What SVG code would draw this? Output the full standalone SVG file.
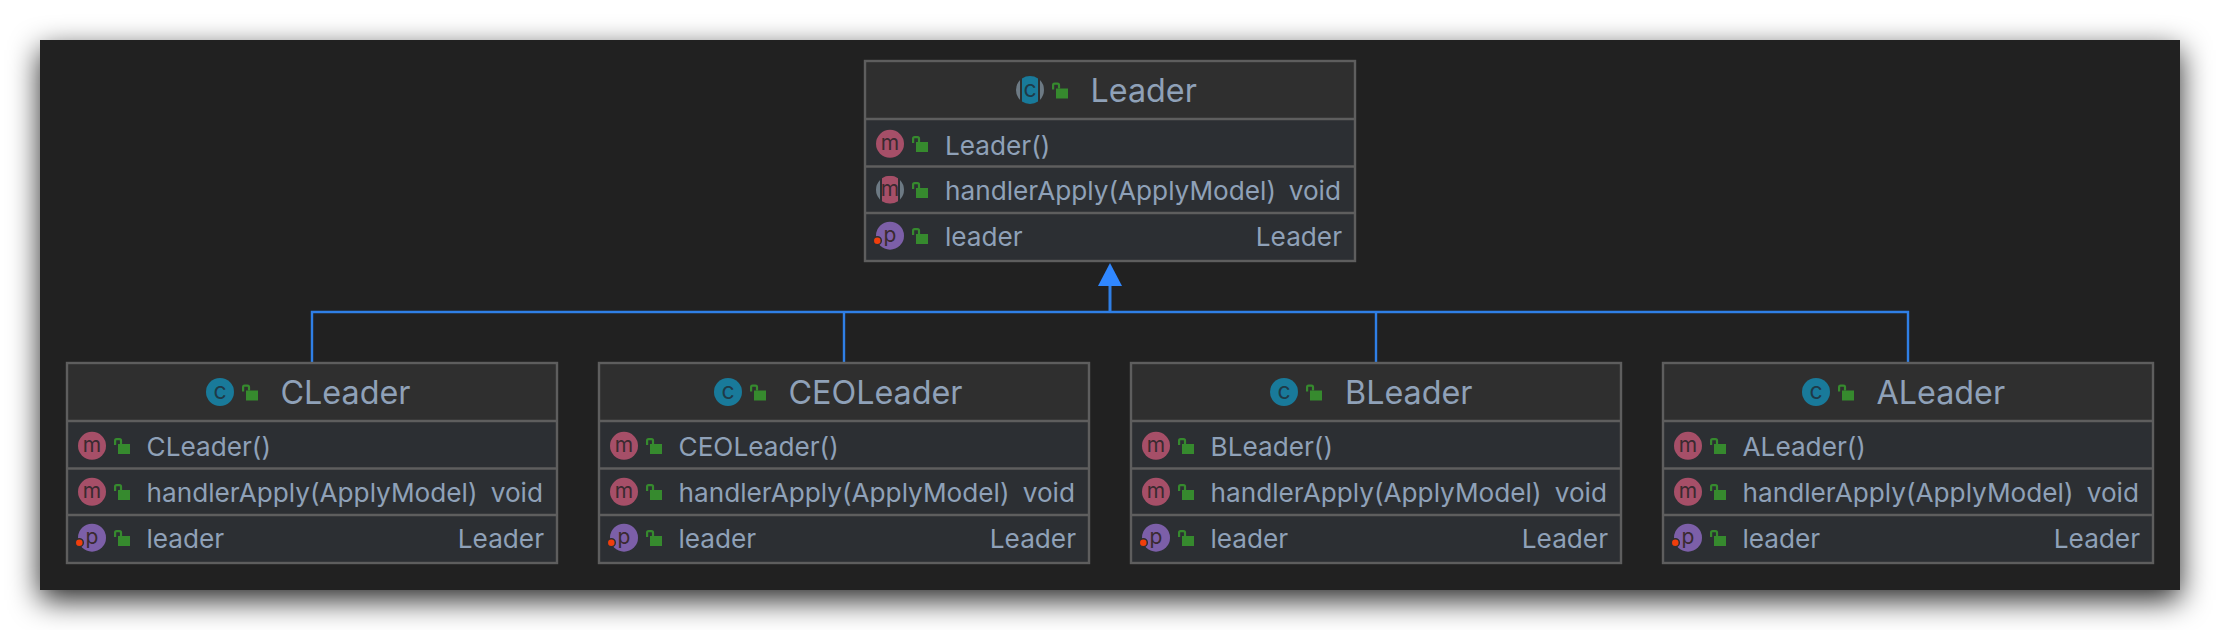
<svg xmlns="http://www.w3.org/2000/svg" width="2220" height="630" viewBox="0 0 2220 630">
<style>
.frame{fill:#212121}
.head{fill:#2f2f2f}
.row{fill:#2c2f33}
.line{stroke:#5e5e5e;stroke-width:2.400;fill:none}
text{font-family:Inter,"Noto Sans",sans-serif}
.title{font-size:32.300px;fill:#8fa1b8}
.t{font-size:26.200px;fill:#8fa1b8}
.e{text-anchor:end}
.ic{font-size:21px;fill:#3a2a30;text-anchor:middle}
.ic2{font-size:23px;fill:#1f3a48;text-anchor:middle}
.mc{fill:#a64f68}.pc{fill:#7c5fa8}.cc{fill:#197a9a}.gc{fill:#6d7a84}
.lk{fill:#368a2e}.ls{stroke:#368a2e;stroke-width:2.200;fill:none}
.conn{stroke:#2f7fe6;stroke-width:2.400;fill:none}
.arrow{fill:#3087ff}
.dot{fill:#f03e0c;stroke:#2c2f33;stroke-width:1.500}
</style>
<defs>
<filter id="sh" x="-10%" y="-30%" width="120%" height="160%"><feGaussianBlur stdDeviation="15"/></filter>
<g id="lock"><rect x="4" y="6" width="12" height="10" class="lk"/><path d="M1.100 7V2.500Q1.100 1.100 2.500 1.100H5.500Q7 1.100 7 2.500V6" class="ls"/></g>
<g id="box"><rect x="0" y="0" width="490" height="200" class="row"/><rect x="0" y="0" width="490" height="58" class="head"/><path d="M0 58H490M0 105.500H490M0 152H490" class="line"/><rect x="0" y="0" width="490" height="200" class="line"/></g>
<g id="members">
<circle cx="25" cy="128.800" r="14" class="mc"/><use href="#lock" x="47" y="75"/>
<use href="#lock" x="47" y="121"/>
<circle cx="25" cy="174.700" r="14" class="pc"/><use href="#lock" x="47" y="167"/>
<circle cx="12.300" cy="179.700" r="4" class="dot"/>
</g>
<clipPath id="band"><rect x="-8" y="-14" width="16" height="28"/></clipPath>
<clipPath id="sides"><path d="M-14-14H-10V14H-14ZM10-14H14V14H10Z"/></clipPath>
</defs>
<rect x="40" y="50" width="2140" height="550" fill="#000" fill-opacity="0.85" filter="url(#sh)"/>
<rect x="40" y="40" width="2140" height="550" class="frame"/>
<g id="connectors">
<path d="M312 363V312H1908V363M844 312V363M1376 312V363" class="conn"/>
<path d="M1110 312V285" class="conn" style="stroke-width:3"/>
<polygon points="1110,263 1122,286 1098,286" class="arrow"/>
</g>
<g id="Leader" transform="translate(865 61)">
<use href="#box"/>
<g transform="translate(165 29)"><circle r="14" class="gc" clip-path="url(#sides)"/><circle r="14" class="cc" clip-path="url(#band)"/></g>
<text x="165" y="36" class="ic2">c</text>
<use href="#lock" x="187" y="21.500"/>
<text x="225.500" y="41" class="title">Leader</text>
<circle cx="25" cy="82.800" r="14" class="mc"/>
<text x="25" y="89" class="ic">m</text>
<g transform="translate(25 128.800)"><circle r="14" class="gc" clip-path="url(#sides)"/><circle r="14" class="mc" clip-path="url(#band)"/></g>
<text x="25" y="135" class="ic">m</text>
<circle cx="25" cy="174.700" r="14" class="pc"/><text x="25" y="181" class="ic">p</text>
<use href="#lock" x="47" y="75"/><use href="#lock" x="47" y="121"/><use href="#lock" x="47" y="167"/>
<circle cx="12.300" cy="179.700" r="4" class="dot"/>
<text x="80" y="94" class="t">Leader()</text>
<text x="80" y="139" class="t">handlerApply(ApplyModel)</text>
<text x="476" y="139" class="t e">void</text>
<text x="80" y="185" class="t">leader</text>
<text x="477" y="185" class="t e">Leader</text>
</g>
<g id="CLeader" transform="translate(67 363)">
<use href="#box"/>
<circle cx="153" cy="29" r="14" class="cc"/><text x="153" y="36" class="ic2">c</text>
<use href="#lock" x="175" y="21.500"/>
<text x="213.500" y="41" class="title">CLeader</text>
<circle cx="25" cy="82.800" r="14" class="mc"/><use href="#members"/>
<text x="25" y="89" class="ic">m</text><text x="25" y="135" class="ic">m</text><text x="25" y="181" class="ic">p</text>
<text x="79.500" y="93" class="t">CLeader()</text>
<text x="79.500" y="139" class="t">handlerApply(ApplyModel)</text>
<text x="476" y="139" class="t e">void</text>
<text x="79.500" y="185" class="t">leader</text>
<text x="477" y="185" class="t e">Leader</text>
</g>
<g id="CEOLeader" transform="translate(599 363)">
<use href="#box"/>
<circle cx="129" cy="29" r="14" class="cc"/><text x="129" y="36" class="ic2">c</text>
<use href="#lock" x="151" y="21.500"/>
<text x="189.500" y="41" class="title">CEOLeader</text>
<circle cx="25" cy="82.800" r="14" class="mc"/><use href="#members"/>
<text x="25" y="89" class="ic">m</text><text x="25" y="135" class="ic">m</text><text x="25" y="181" class="ic">p</text>
<text x="79.500" y="93" class="t">CEOLeader()</text>
<text x="79.500" y="139" class="t">handlerApply(ApplyModel)</text>
<text x="476" y="139" class="t e">void</text>
<text x="79.500" y="185" class="t">leader</text>
<text x="477" y="185" class="t e">Leader</text>
</g>
<g id="BLeader" transform="translate(1131 363)">
<use href="#box"/>
<circle cx="153" cy="29" r="14" class="cc"/><text x="153" y="36" class="ic2">c</text>
<use href="#lock" x="175" y="21.500"/>
<text x="214" y="41" class="title">BLeader</text>
<circle cx="25" cy="82.800" r="14" class="mc"/><use href="#members"/>
<text x="25" y="89" class="ic">m</text><text x="25" y="135" class="ic">m</text><text x="25" y="181" class="ic">p</text>
<text x="79.500" y="93" class="t">BLeader()</text>
<text x="79.500" y="139" class="t">handlerApply(ApplyModel)</text>
<text x="476" y="139" class="t e">void</text>
<text x="79.500" y="185" class="t">leader</text>
<text x="477" y="185" class="t e">Leader</text>
</g>
<g id="ALeader" transform="translate(1663 363)">
<use href="#box"/>
<circle cx="153" cy="29" r="14" class="cc"/><text x="153" y="36" class="ic2">c</text>
<use href="#lock" x="175" y="21.500"/>
<text x="213.500" y="41" class="title">ALeader</text>
<circle cx="25" cy="82.800" r="14" class="mc"/><use href="#members"/>
<text x="25" y="89" class="ic">m</text><text x="25" y="135" class="ic">m</text><text x="25" y="181" class="ic">p</text>
<text x="79.500" y="93" class="t">ALeader()</text>
<text x="79.500" y="139" class="t">handlerApply(ApplyModel)</text>
<text x="476" y="139" class="t e">void</text>
<text x="79.500" y="185" class="t">leader</text>
<text x="477" y="185" class="t e">Leader</text>
</g>
</svg>
